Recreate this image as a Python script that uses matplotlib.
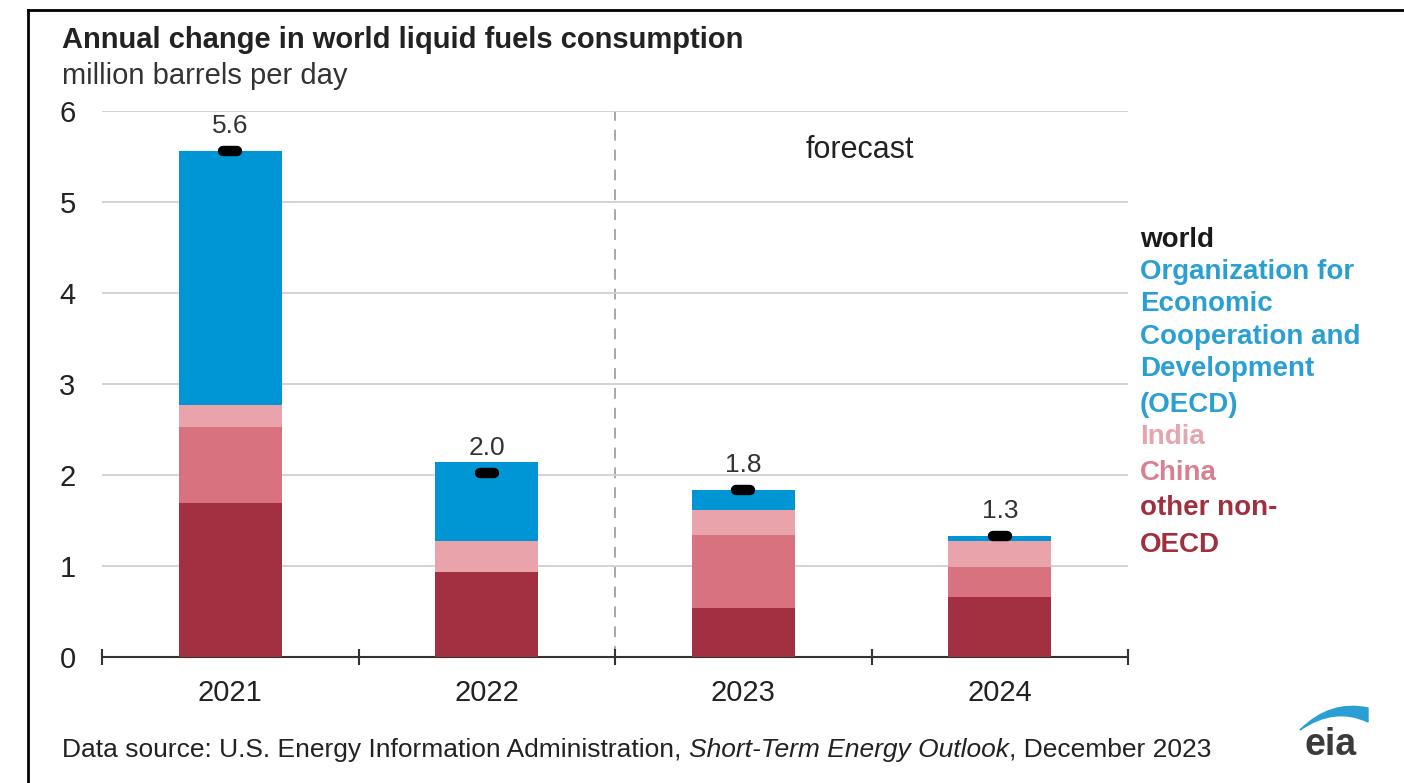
import matplotlib
matplotlib.use("Agg")
import matplotlib.pyplot as plt
import numpy as np
from matplotlib.patches import PathPatch
from matplotlib.path import Path

years = ["2021", "2022", "2023", "2024"]
other_non_oecd = [1.69, 0.93, 0.54, 0.66]
china = [0.84, 0.00, 0.80, 0.33]
india = [0.24, 0.34, 0.28, 0.29]
oecd = [2.79, 0.87, 0.22, 0.05]
world = [5.56, 2.02, 1.83, 1.33]
world_labels = ["5.6", "2.0", "1.8", "1.3"]

c_other = "#a23040"
c_china = "#d7727e"
c_india = "#e8a3ab"
c_oecd = "#0096d6"

plt.rcParams["font.family"] = ["Liberation Sans", "DejaVu Sans"]

fig = plt.figure(figsize=(14.04, 7.83), dpi=100)
W, H = 1404, 783
ax = fig.add_axes([102 / W, 1 - 657 / H, 1026 / W, 546 / H])

x = np.arange(len(years))
bw = 0.4
bottom = np.zeros(len(years))
for vals, col in [(other_non_oecd, c_other), (china, c_china), (india, c_india), (oecd, c_oecd)]:
    ax.bar(x, vals, bw, bottom=bottom, color=col, zorder=3, linewidth=0)
    bottom += np.array(vals)

# world markers
ax.hlines(world, x - 0.027, x + 0.027, colors="black", linewidth=7.5,
          capstyle="round", zorder=5)
for xi, w, lab in zip(x, world, world_labels):
    ax.annotate(lab, (xi, w), xytext=(0, 18), textcoords="offset points",
                ha="center", va="center", fontsize=19, color="#333333")

ax.set_xlim(-0.5, 3.5)
ax.set_ylim(0, 6)
ax.set_yticks(range(0, 7))
ax.yaxis.grid(True, color="#d0d0d0", linewidth=1.3, zorder=0)
ax.set_xticks(x)
ax.set_xticklabels(years)
ax.set_xticks(np.arange(-0.5, 4, 1), minor=True)
ax.tick_params(axis="x", which="major", length=0, pad=16, labelsize=21, labelcolor="#222222")
ax.tick_params(axis="x", which="minor", direction="inout", length=12, width=1.5, color="#333333")
ax.tick_params(axis="y", length=0, pad=19, labelsize=21, labelcolor="#222222")
for s in ["top", "right", "left"]:
    ax.spines[s].set_visible(False)
ax.spines["bottom"].set_color("#333333")
ax.spines["bottom"].set_linewidth(1.5)

ax.axvline(1.5, color="#a0a0a0", linestyle=(0, (6, 5)), linewidth=1.3, zorder=1)
ax.text(2.455, 5.57, "forecast", ha="center", va="center", fontsize=22, color="#222222")

# titles
fig.text(62 / W, 1 - 40 / H, "Annual change in world liquid fuels consumption",
         fontsize=21, fontweight="bold", color="#222222", va="center")
fig.text(62 / W, 1 - 76 / H, "million barrels per day", fontsize=21, color="#333333", va="center")

# legend as text
legend_items = [
    ("world", "#1a1a1a", 240),
    ("Organization for", "#2a9fd4", 272),
    ("Economic", "#2a9fd4", 304),
    ("Cooperation and", "#2a9fd4", 337),
    ("Development", "#2a9fd4", 369),
    ("(OECD)", "#2a9fd4", 405),
    ("India", "#e6a4ae", 437),
    ("China", "#d88090", 473),
    ("other non-", "#a0303f", 508),
    ("OECD", "#a0303f", 545),
]
for txt, col, ypix in legend_items:
    fig.text(1140 / W, 1 - ypix / H, txt, fontsize=20, fontweight="bold", color=col, va="center")

# source
fig.text(62 / W, 1 - 750 / H, "Data source: U.S. Energy Information Administration, ",
         fontsize=19, color="#222222", va="center")
src = fig.texts[-1]
fig.canvas.draw()
bb = src.get_window_extent()
t2 = fig.text(bb.x1 / W, 1 - 750 / H, "Short-Term Energy Outlook", fontsize=19,
              style="italic", color="#222222", va="center")
bb2 = t2.get_window_extent(renderer=fig.canvas.get_renderer())
fig.text(bb2.x1 / W, 1 - 750 / H, ", December 2023", fontsize=19, color="#222222", va="center")

# eia logo
fig.text(1331 / W, 1 - 745 / H, "eia", fontsize=27, fontweight="bold", color="#3a3a3a",
         ha="center", va="center")
verts = [(1300, 730), (1330, 700), (1368, 708), (1368, 722), (1335, 706), (1300, 730)]
codes = [Path.MOVETO, Path.CURVE3, Path.CURVE3, Path.LINETO, Path.CURVE3, Path.CURVE3]
pverts = [(vx / W, 1 - vy / H) for vx, vy in verts]
fig.add_artist(PathPatch(Path(pverts, codes), transform=fig.transFigure,
                         facecolor="#2a9fd4", edgecolor="#2a9fd4", linewidth=1))

# frame
fig.add_artist(plt.Line2D([28 / W, 1], [1 - 10 / H, 1 - 10 / H], transform=fig.transFigure,
                          color="black", linewidth=2))
fig.add_artist(plt.Line2D([28 / W, 28 / W], [0, 1 - 10 / H], transform=fig.transFigure,
                          color="black", linewidth=2))

fig.savefig("out.png", dpi=100)
